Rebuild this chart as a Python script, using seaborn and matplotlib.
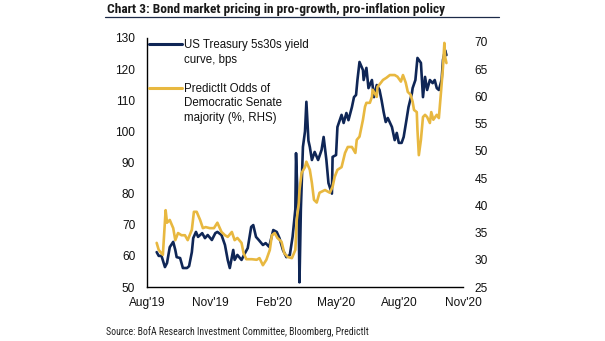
import matplotlib
matplotlib.use("Agg")
import matplotlib.pyplot as plt
from matplotlib import font_manager as fm
from matplotlib.lines import Line2D
import pandas as pd
import seaborn as sns

# ---------------- data ----------------
ust_dates = [
    "2019-08-15", "2019-08-18", "2019-08-22", "2019-08-27", "2019-08-30", "2019-09-03",
    "2019-09-08", "2019-09-11", "2019-09-13", "2019-09-18", "2019-09-22", "2019-09-28",
    "2019-10-01", "2019-10-05", "2019-10-07", "2019-10-11", "2019-10-14", "2019-10-20",
    "2019-10-24", "2019-10-28", "2019-11-03", "2019-11-08", "2019-11-11", "2019-11-17",
    "2019-11-22", "2019-11-26", "2019-11-29", "2019-12-04", "2019-12-06", "2019-12-10",
    "2019-12-16", "2019-12-21", "2019-12-25", "2019-12-30", "2020-01-02", "2020-01-06",
    "2020-01-10", "2020-01-16", "2020-01-20", "2020-01-25", "2020-01-31", "2020-02-05",
    "2020-02-09", "2020-02-14", "2020-02-19", "2020-02-24", "2020-02-28", "2020-03-03",
    "2020-03-04", "2020-03-06", "2020-03-08", "2020-03-09", "2020-03-11", "2020-03-14",
    "2020-03-17", "2020-03-19", "2020-03-22", "2020-03-24", "2020-03-27", "2020-03-31",
    "2020-04-05", "2020-04-10", "2020-04-13", "2020-04-17", "2020-04-20", "2020-04-25",
    "2020-04-26", "2020-05-01", "2020-05-03", "2020-05-09", "2020-05-12", "2020-05-16",
    "2020-05-19", "2020-05-24", "2020-05-27", "2020-05-30", "2020-06-01", "2020-06-04",
    "2020-06-09", "2020-06-10", "2020-06-14", "2020-06-17", "2020-06-22", "2020-06-25",
    "2020-06-29", "2020-07-03", "2020-07-06", "2020-07-09", "2020-07-12", "2020-07-15",
    "2020-07-21", "2020-07-25", "2020-07-28", "2020-07-31", "2020-08-04", "2020-08-07",
    "2020-08-11", "2020-08-14", "2020-08-19", "2020-08-20", "2020-08-24", "2020-08-27",
    "2020-09-01", "2020-09-04", "2020-09-07", "2020-09-10", "2020-09-14", "2020-09-18",
    "2020-09-21", "2020-09-24", "2020-09-27", "2020-10-01", "2020-10-03", "2020-10-06",
    "2020-10-08",
]
ust_5s30s = [
    61.2, 60.0, 60.0, 56.4, 57.7, 62.8,
    64.5, 61.9, 59.6, 59.3, 56.1, 56.1,
    56.7, 61.2, 65.7, 67.7, 66.1, 67.3,
    65.7, 66.7, 65.1, 67.3, 67.7, 66.7,
    63.5, 58.7, 56.1, 61.9, 58.7, 60.3,
    58.7, 60.9, 62.5, 69.3, 69.9, 66.1,
    65.1, 63.5, 64.1, 62.9, 68.3, 67.7,
    65.7, 61.9, 59.6, 60.3, 66.1, 75.0,
    93.0, 80.0, 70.0, 51.5, 75.0, 95.0,
    100.0, 109.5, 97.0, 95.0, 90.8, 93.4,
    90.8, 94.0, 98.2, 90.8, 83.4, 80.0,
    91.8, 92.4, 101.4, 105.3, 102.7, 105.9,
    103.6, 107.8, 111.0, 111.7, 116.5, 122.3,
    119.7, 116.5, 120.4, 113.9, 116.5, 111.0,
    114.9, 113.3, 110.0, 106.2, 103.0, 104.3,
    101.4, 97.2, 99.5, 96.3, 96.3, 98.2,
    103.6, 107.8, 112.3, 113.9, 116.5, 123.6,
    122.0, 111.0, 117.5, 113.3, 116.5, 115.5,
    116.5, 113.9, 113.3, 116.5, 123.0, 126.1,
    124.5,
]

odds_dates = [
    "2019-08-15", "2019-08-18", "2019-08-24", "2019-08-28", "2019-08-30", "2019-09-03",
    "2019-09-08", "2019-09-11", "2019-09-15", "2019-09-20", "2019-09-25", "2019-09-29",
    "2019-10-05", "2019-10-08", "2019-10-12", "2019-10-17", "2019-10-21", "2019-10-25",
    "2019-10-31", "2019-11-06", "2019-11-11", "2019-11-17", "2019-11-22", "2019-11-26",
    "2019-12-02", "2019-12-06", "2019-12-10", "2019-12-16", "2019-12-19", "2019-12-23",
    "2019-12-31", "2020-01-07", "2020-01-11", "2020-01-16", "2020-01-21", "2020-01-26",
    "2020-01-29", "2020-02-02", "2020-02-06", "2020-02-12", "2020-02-16", "2020-02-21",
    "2020-02-27", "2020-03-03", "2020-03-05", "2020-03-08", "2020-03-09", "2020-03-12",
    "2020-03-17", "2020-03-19", "2020-03-24", "2020-03-27", "2020-03-30", "2020-04-03",
    "2020-04-07", "2020-04-15", "2020-04-22", "2020-04-26", "2020-04-29", "2020-05-03",
    "2020-05-09", "2020-05-14", "2020-05-18", "2020-05-24", "2020-05-29", "2020-05-31",
    "2020-06-04", "2020-06-09", "2020-06-12", "2020-06-14", "2020-06-19", "2020-06-22",
    "2020-06-23", "2020-06-29", "2020-06-30", "2020-07-05", "2020-07-08", "2020-07-13",
    "2020-07-18", "2020-07-25", "2020-07-29", "2020-08-03", "2020-08-06", "2020-08-10",
    "2020-08-13", "2020-08-17", "2020-08-20", "2020-08-22", "2020-08-26", "2020-08-27",
    "2020-08-29", "2020-09-01", "2020-09-04", "2020-09-07", "2020-09-10", "2020-09-14",
    "2020-09-16", "2020-09-19", "2020-09-24", "2020-09-27", "2020-09-30", "2020-10-03",
    "2020-10-05", "2020-10-06", "2020-10-08",
]
senate_odds = [
    33.1, 31.8, 30.9, 39.1, 36.8, 37.3,
    35.8, 33.6, 34.9, 34.5, 34.5, 33.6,
    35.5, 38.8, 38.8, 37.3, 35.8, 36.0,
    35.8, 35.8, 36.8, 35.1, 34.5, 34.2,
    35.1, 33.6, 34.0, 33.1, 31.2, 30.1,
    30.1, 30.0, 30.3, 29.0, 30.0, 31.8,
    34.5, 34.9, 34.0, 33.3, 31.2, 30.5,
    30.3, 31.8, 37.3, 40.4, 42.8, 45.9,
    47.0, 48.0, 46.5, 44.1, 41.0, 40.5,
    42.3, 42.8, 42.3, 43.4, 45.2, 46.5,
    47.0, 49.6, 50.7, 50.7, 49.6, 52.0,
    52.6, 55.7, 58.1, 58.8, 58.8, 59.9,
    61.2, 59.9, 61.7, 62.5, 63.0, 63.4,
    63.9, 63.9, 63.6, 62.7, 63.9, 62.5,
    60.8, 60.3, 59.0, 57.5, 57.1, 53.8,
    49.2, 52.0, 56.2, 56.6, 56.2, 55.1,
    57.1, 55.7, 56.6, 56.0, 60.6, 65.4,
    69.8, 67.3, 66.1,
]

tick_dates = ["2019-08-01", "2019-11-01", "2020-02-01", "2020-05-01", "2020-08-01", "2020-11-01"]
tick_labels = ["Aug'19", "Nov'19", "Feb'20", "May'20", "Aug'20", "Nov'20"]
left_ticks = [50, 60, 70, 80, 90, 100, 110, 120, 130]
right_ticks = [25, 30, 35, 40, 45, 50, 55, 60, 65, 70]

title = "Chart 3: Bond market pricing in pro-growth, pro-inflation policy"
source = "Source: BofA Research Investment Committee, Bloomberg, PredictIt"
label_ust = ["US Treasury 5s30s yield", "curve, bps"]
label_odds = ["PredictIt Odds of", "Democratic Senate", "majority (%, RHS)"]

NAVY = "#0f2656"
GOLD = "#e8b840"

# ---------------- plot ----------------
sns.set_theme(style="white")
plt.rcParams["font.family"] = ["Liberation Sans", "DejaVu Sans"]

installed = {f.name for f in fm.fontManager.ttflist}
narrow = "Roboto"
for cand in ["Liberation Sans Narrow", "Roboto Condensed", "Open Sans Condensed",
             "Noto Sans Condensed", "DejaVu Sans Condensed", "Roboto"]:
    if cand in installed:
        narrow = cand
        break

df_ust = pd.DataFrame({"date": pd.to_datetime(ust_dates), "value": ust_5s30s})
df_odds = pd.DataFrame({"date": pd.to_datetime(odds_dates), "value": senate_odds})

fig = plt.figure(figsize=(6.05, 3.41), dpi=100)
ax = fig.add_axes([147 / 605, 1 - 287 / 341, 316 / 605, (287 - 38) / 341])
ax2 = ax.twinx()

sns.lineplot(data=df_ust, x="date", y="value", ax=ax, color=NAVY, linewidth=1.9)
sns.lineplot(data=df_odds, x="date", y="value", ax=ax2, color=GOLD, linewidth=1.9)

ax.set_xlim(pd.Timestamp(tick_dates[0]), pd.Timestamp(tick_dates[-1]))
ax.set_ylim(50, 130)
ax2.set_ylim(25, 70.7)
ax.set_xticks(pd.to_datetime(tick_dates))
ax.set_xticklabels(tick_labels)
ax.set_yticks(left_ticks)
ax2.set_yticks(right_ticks)
ax.set_xlabel("")
ax.set_ylabel("")
ax2.set_ylabel("")

for a in (ax, ax2):
    a.tick_params(length=0, labelsize=8.6, colors="#111111")
    for s in a.spines.values():
        s.set_visible(False)
ax.tick_params(axis="y", pad=8.5)
ax.tick_params(axis="x", pad=7)
ax2.tick_params(axis="y", pad=8.5)
for side in ("left", "bottom"):
    ax.spines[side].set_visible(True)
    ax.spines[side].set_color("black")
    ax.spines[side].set_linewidth(1.0)
ax.grid(False)
ax2.grid(False)

# legend (handle aligned with first line of each label)
blank = Line2D([], [], color="none")
handles = [Line2D([], [], color=NAVY, linewidth=2.2), blank, blank,
           Line2D([], [], color=GOLD, linewidth=2.2), blank, blank]
labels = [label_ust[0], label_ust[1], " ", label_odds[0], label_odds[1], label_odds[2]]
leg = ax2.legend(handles, labels, loc="upper left", bbox_to_anchor=(0.0, 1.005),
                 frameon=False, fontsize=8.3, handlelength=2.8, handletextpad=0.25,
                 labelspacing=0.22, borderpad=0.0, borderaxespad=0.2)
for t in leg.get_texts():
    t.set_color("#111111")

# title, underline and source
t_title = fig.text(107 / 605, 1 - 13 / 341, title, fontsize=10, fontweight="bold",
                   family=[narrow, "DejaVu Sans"], color="#1a1a1a",
                   ha="left", va="baseline")
fig.add_artist(Line2D([105 / 605, 499 / 605], [1 - 16.5 / 341, 1 - 16.5 / 341],
                      transform=fig.transFigure, color="#1c2a48", linewidth=0.9))
t_src = fig.text(106 / 605, 1 - 332 / 341, source, fontsize=7.5,
                 family=[narrow, "DejaVu Sans"], color="#222222",
                 ha="left", va="center")

# fit text widths to the reference
renderer = fig.canvas.get_renderer()
for txt, target in ((t_title, 341.0), (t_src, 264.0)):
    w = txt.get_window_extent(renderer).width
    txt.set_fontsize(txt.get_fontsize() * target / w)

fig.savefig("out.png", dpi=100)
